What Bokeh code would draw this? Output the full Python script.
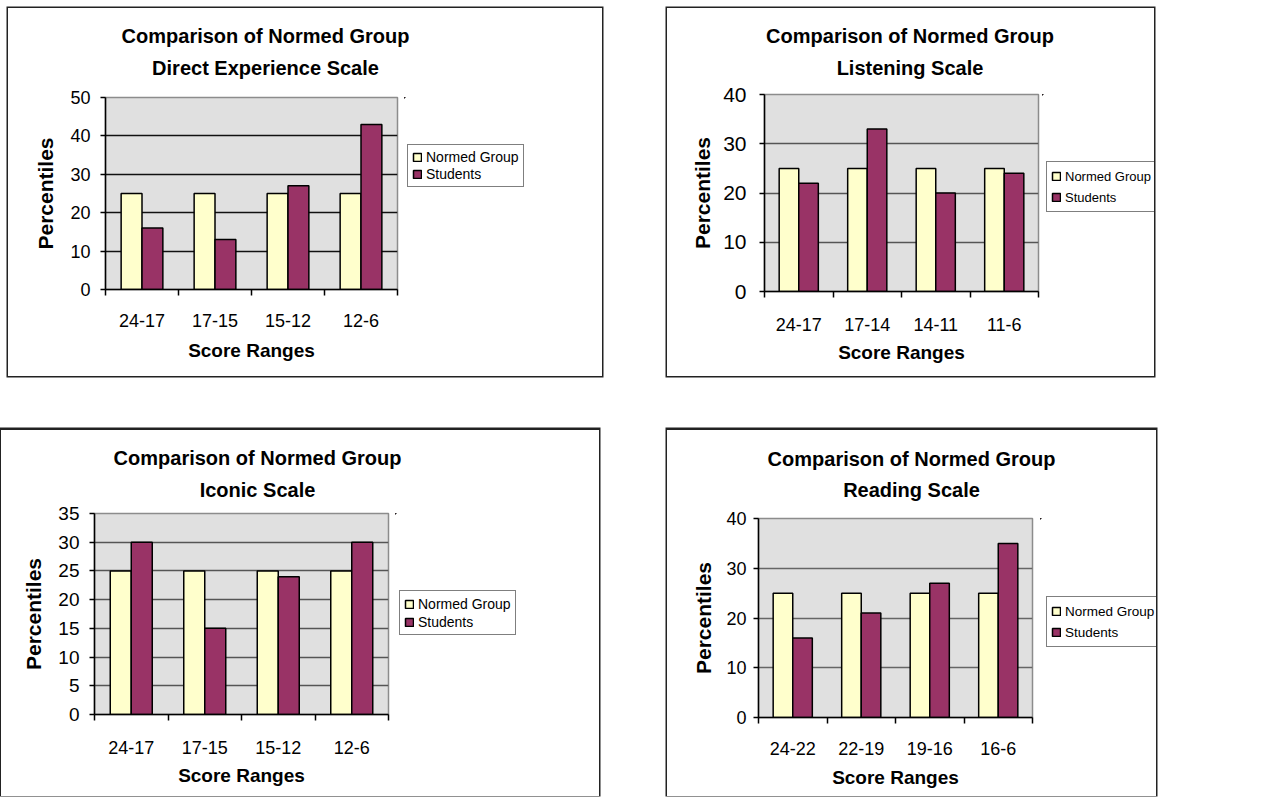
from bokeh.plotting import figure
from bokeh.layouts import row, column
from bokeh.models import (Range1d, FixedTicker, Legend, LegendItem, ColumnDataSource,
                          Label, Spacer)
from bokeh.transform import dodge
from bokeh.embed import file_html
from bokeh.resources import INLINE

FONT = "Liberation Sans"

# ---------------- data ----------------
title_line1 = "Comparison of Normed Group"
series_names = ["Normed Group", "Students"]
x_title = "Score Ranges"
y_title = "Percentiles"

direct_title = "Direct Experience Scale"
direct_ranges = ["24-17", "17-15", "15-12", "12-6"]
direct_normed = [25, 25, 25, 25]
direct_students = [16, 13, 27, 43]
direct_yticks = [0, 10, 20, 30, 40, 50]

listening_title = "Listening Scale"
listening_ranges = ["24-17", "17-14", "14-11", "11-6"]
listening_normed = [25, 25, 25, 25]
listening_students = [22, 33, 20, 24]
listening_yticks = [0, 10, 20, 30, 40]

iconic_title = "Iconic Scale"
iconic_ranges = ["24-17", "17-15", "15-12", "12-6"]
iconic_normed = [25, 25, 25, 25]
iconic_students = [30, 15, 24, 30]
iconic_yticks = [0, 5, 10, 15, 20, 25, 30, 35]

reading_title = "Reading Scale"
reading_ranges = ["24-22", "22-19", "19-16", "16-6"]
reading_normed = [25, 25, 25, 25]
reading_students = [16, 21, 27, 35]
reading_yticks = [0, 10, 20, 30, 40]

NORMED_COLOR = "#FFFFCC"
STUDENT_COLOR = "#993366"
BAR_STYLE = dict(line_color="black", line_width=1.5)


def blank_fig(w, h, xr=(0, 1), yr=(0, 1)):
    """A figure without axes, used for the title strip and the legend strip."""
    f = figure(width=w, height=h, output_backend="svg", toolbar_location=None,
               x_range=Range1d(*xr), y_range=Range1d(*yr),
               x_axis_location=None, y_axis_location=None, min_border=0,
               outline_line_color=None, background_fill_color="white",
               border_fill_color="white")
    f.xgrid.visible = False
    f.ygrid.visible = False
    return f


def add_bars(fig, src, bw):
    r1 = fig.vbar(x=dodge("x", -bw / 2), top="normed", width=bw, source=src,
                  fill_color=NORMED_COLOR, **BAR_STYLE)
    r2 = fig.vbar(x=dodge("x", bw / 2), top="students", width=bw, source=src,
                  fill_color=STUDENT_COLOR, **BAR_STYLE)
    return r1, r2


def make_chart(subtitle, cats, normed, students, yticks, L):
    W, H = L["size"]
    l, t, r, b = L["frame"]
    Ht = L["title_h"]
    Wm = L["main_w"]
    n = len(cats)

    # ---- title strip ----
    tf = blank_fig(W, Ht)
    cx, y1, y2 = L["title"]
    for txt, cy in ((title_line1, y1), (subtitle, y2)):
        tf.add_layout(Label(x=cx, y=Ht - cy, x_units="screen", y_units="screen",
                            text=txt, text_align="center", text_baseline="middle",
                            text_font=FONT, text_font_style="bold",
                            text_font_size="20px", text_color="black"))

    # ---- main plot ----
    p = figure(width=Wm, height=H - Ht, output_backend="svg", toolbar_location=None,
               x_range=Range1d(0, n), y_range=Range1d(yticks[0], yticks[-1]),
               min_border_left=l, min_border_right=Wm - r,
               min_border_top=t - Ht, min_border_bottom=H - b,
               background_fill_color="#E0E0E0", border_fill_color="white",
               outline_line_color="#8C8C8C", outline_line_width=1.5)

    centers = [i + 0.5 for i in range(n)]
    src = ColumnDataSource(dict(x=centers, normed=normed, students=students))
    bw = 1 / 3.5
    add_bars(p, src, bw)

    # x axis: labels at category centres, ticks at category boundaries
    xa = p.xaxis[0]
    xa.ticker = FixedTicker(ticks=centers, minor_ticks=list(range(n + 1)))
    xa.major_label_overrides = {c: lab for c, lab in zip(centers, cats)}
    xa.major_tick_out = 0
    xa.major_tick_in = 0
    xa.minor_tick_out = 6
    xa.minor_tick_in = 0
    xa.minor_tick_line_color = "black"
    xa.minor_tick_line_width = 1.5
    xa.axis_line_color = "black"
    xa.axis_line_width = 1.5
    xa.major_label_text_font = FONT
    xa.major_label_text_font_size = "18px"
    xa.major_label_text_color = "black"
    xa.major_label_standoff = L["xstand"]
    xa.axis_label = x_title
    xa.axis_label_text_font = FONT
    xa.axis_label_text_font_style = "bold"
    xa.axis_label_text_font_size = "19px"
    xa.axis_label_text_color = "black"
    xa.axis_label_standoff = L["xlstand"]

    ya = p.yaxis[0]
    ya.ticker = FixedTicker(ticks=yticks)
    ya.major_tick_out = 5
    ya.major_tick_in = 0
    ya.major_tick_line_color = "black"
    ya.major_tick_line_width = 1.5
    ya.minor_tick_line_color = None
    ya.axis_line_color = "black"
    ya.axis_line_width = 1.5
    ya.major_label_text_font = FONT
    ya.major_label_text_font_size = L["ytick"]
    ya.major_label_text_color = "black"
    ya.major_label_standoff = L["ystand"]
    ya.axis_label = y_title
    ya.axis_label_text_font = FONT
    ya.axis_label_text_font_style = "bold"
    ya.axis_label_text_font_size = "21px"
    ya.axis_label_text_color = "black"
    ya.axis_label_standoff = L["ylstand"]

    p.xgrid.visible = False
    p.ygrid.ticker = FixedTicker(ticks=yticks[1:-1])
    p.ygrid.grid_line_color = L["grid"]
    p.ygrid.grid_line_width = 1.5

    # ---- legend strip (its plot area is aligned with the main plot area) ----
    # the same bars are attached here, far outside the visible ranges, only to feed the legend
    lf = blank_fig(W - Wm, H - Ht, xr=(100, 101), yr=(-200, -100))
    g1, g2 = add_bars(lf, src, bw)
    lx, lbot, lrow, lfont = L["legend"]
    leg = Legend(items=[LegendItem(label=series_names[0], renderers=[g1]),
                        LegendItem(label=series_names[1], renderers=[g2])],
                 location=(lx - Wm, b - lbot), margin=0, padding=4,
                 spacing=1, glyph_width=10, glyph_height=10, label_standoff=4,
                 label_height=lrow,
                 label_text_font=FONT, label_text_font_size=lfont,
                 label_text_color="black",
                 border_line_color="black", border_line_width=1,
                 background_fill_color="white", background_fill_alpha=1)
    lf.add_layout(leg)

    return column(tf, row(p, lf), styles={"box-shadow": L["shadow"]})


SH_FULL = "0 0 0 1.5px #222222"
SH_OPEN = "0 -1px 0 1.5px #222222"

L1 = dict(size=(594, 368), frame=(97, 89, 389, 281), shadow=SH_FULL, title_h=74, main_w=396,
          title=(257, 27, 59), legend=(399, 179, 15, "14px"), ytick="18px",
          xstand=18, xlstand=10, ystand=10, ylstand=10, grid="#111111")
L2 = dict(size=(487, 368), frame=(97, 86, 371, 283), shadow=SH_FULL, title_h=72, main_w=375,
          title=(242.5, 27, 59), legend=(379, 204, 20, "13px"), ytick="21px",
          xstand=20, xlstand=8, ystand=13, ylstand=6, grid="#555555")
L3 = dict(size=(598, 366), frame=(93, 83, 387, 284), shadow=SH_OPEN, title_h=71, main_w=394,
          title=(256, 27, 59), legend=(398, 205, 17, "14px"), ytick="19px",
          xstand=20, xlstand=8, ystand=10, ylstand=10, grid="#555555")
L4 = dict(size=(489, 366), frame=(91, 88, 365, 287), shadow=SH_OPEN, title_h=72, main_w=373,
          title=(244, 28, 59), legend=(379, 217, 20, "13.5px"), ytick="18px",
          xstand=18, xlstand=9, ystand=7, ylstand=8, grid="#666666")

c1 = make_chart(direct_title, direct_ranges, direct_normed, direct_students, direct_yticks, L1)
c2 = make_chart(listening_title, listening_ranges, listening_normed, listening_students, listening_yticks, L2)
c3 = make_chart(iconic_title, iconic_ranges, iconic_normed, iconic_students, iconic_yticks, L3)
c4 = make_chart(reading_title, reading_ranges, reading_normed, reading_students, reading_yticks, L4)

p = column(Spacer(height=8),
           row(Spacer(width=8), c1, Spacer(width=65), c2),
           Spacer(height=54),
           row(Spacer(width=1), c3, Spacer(width=68), c4))

open("out.html", "w").write(file_html(p, INLINE))
